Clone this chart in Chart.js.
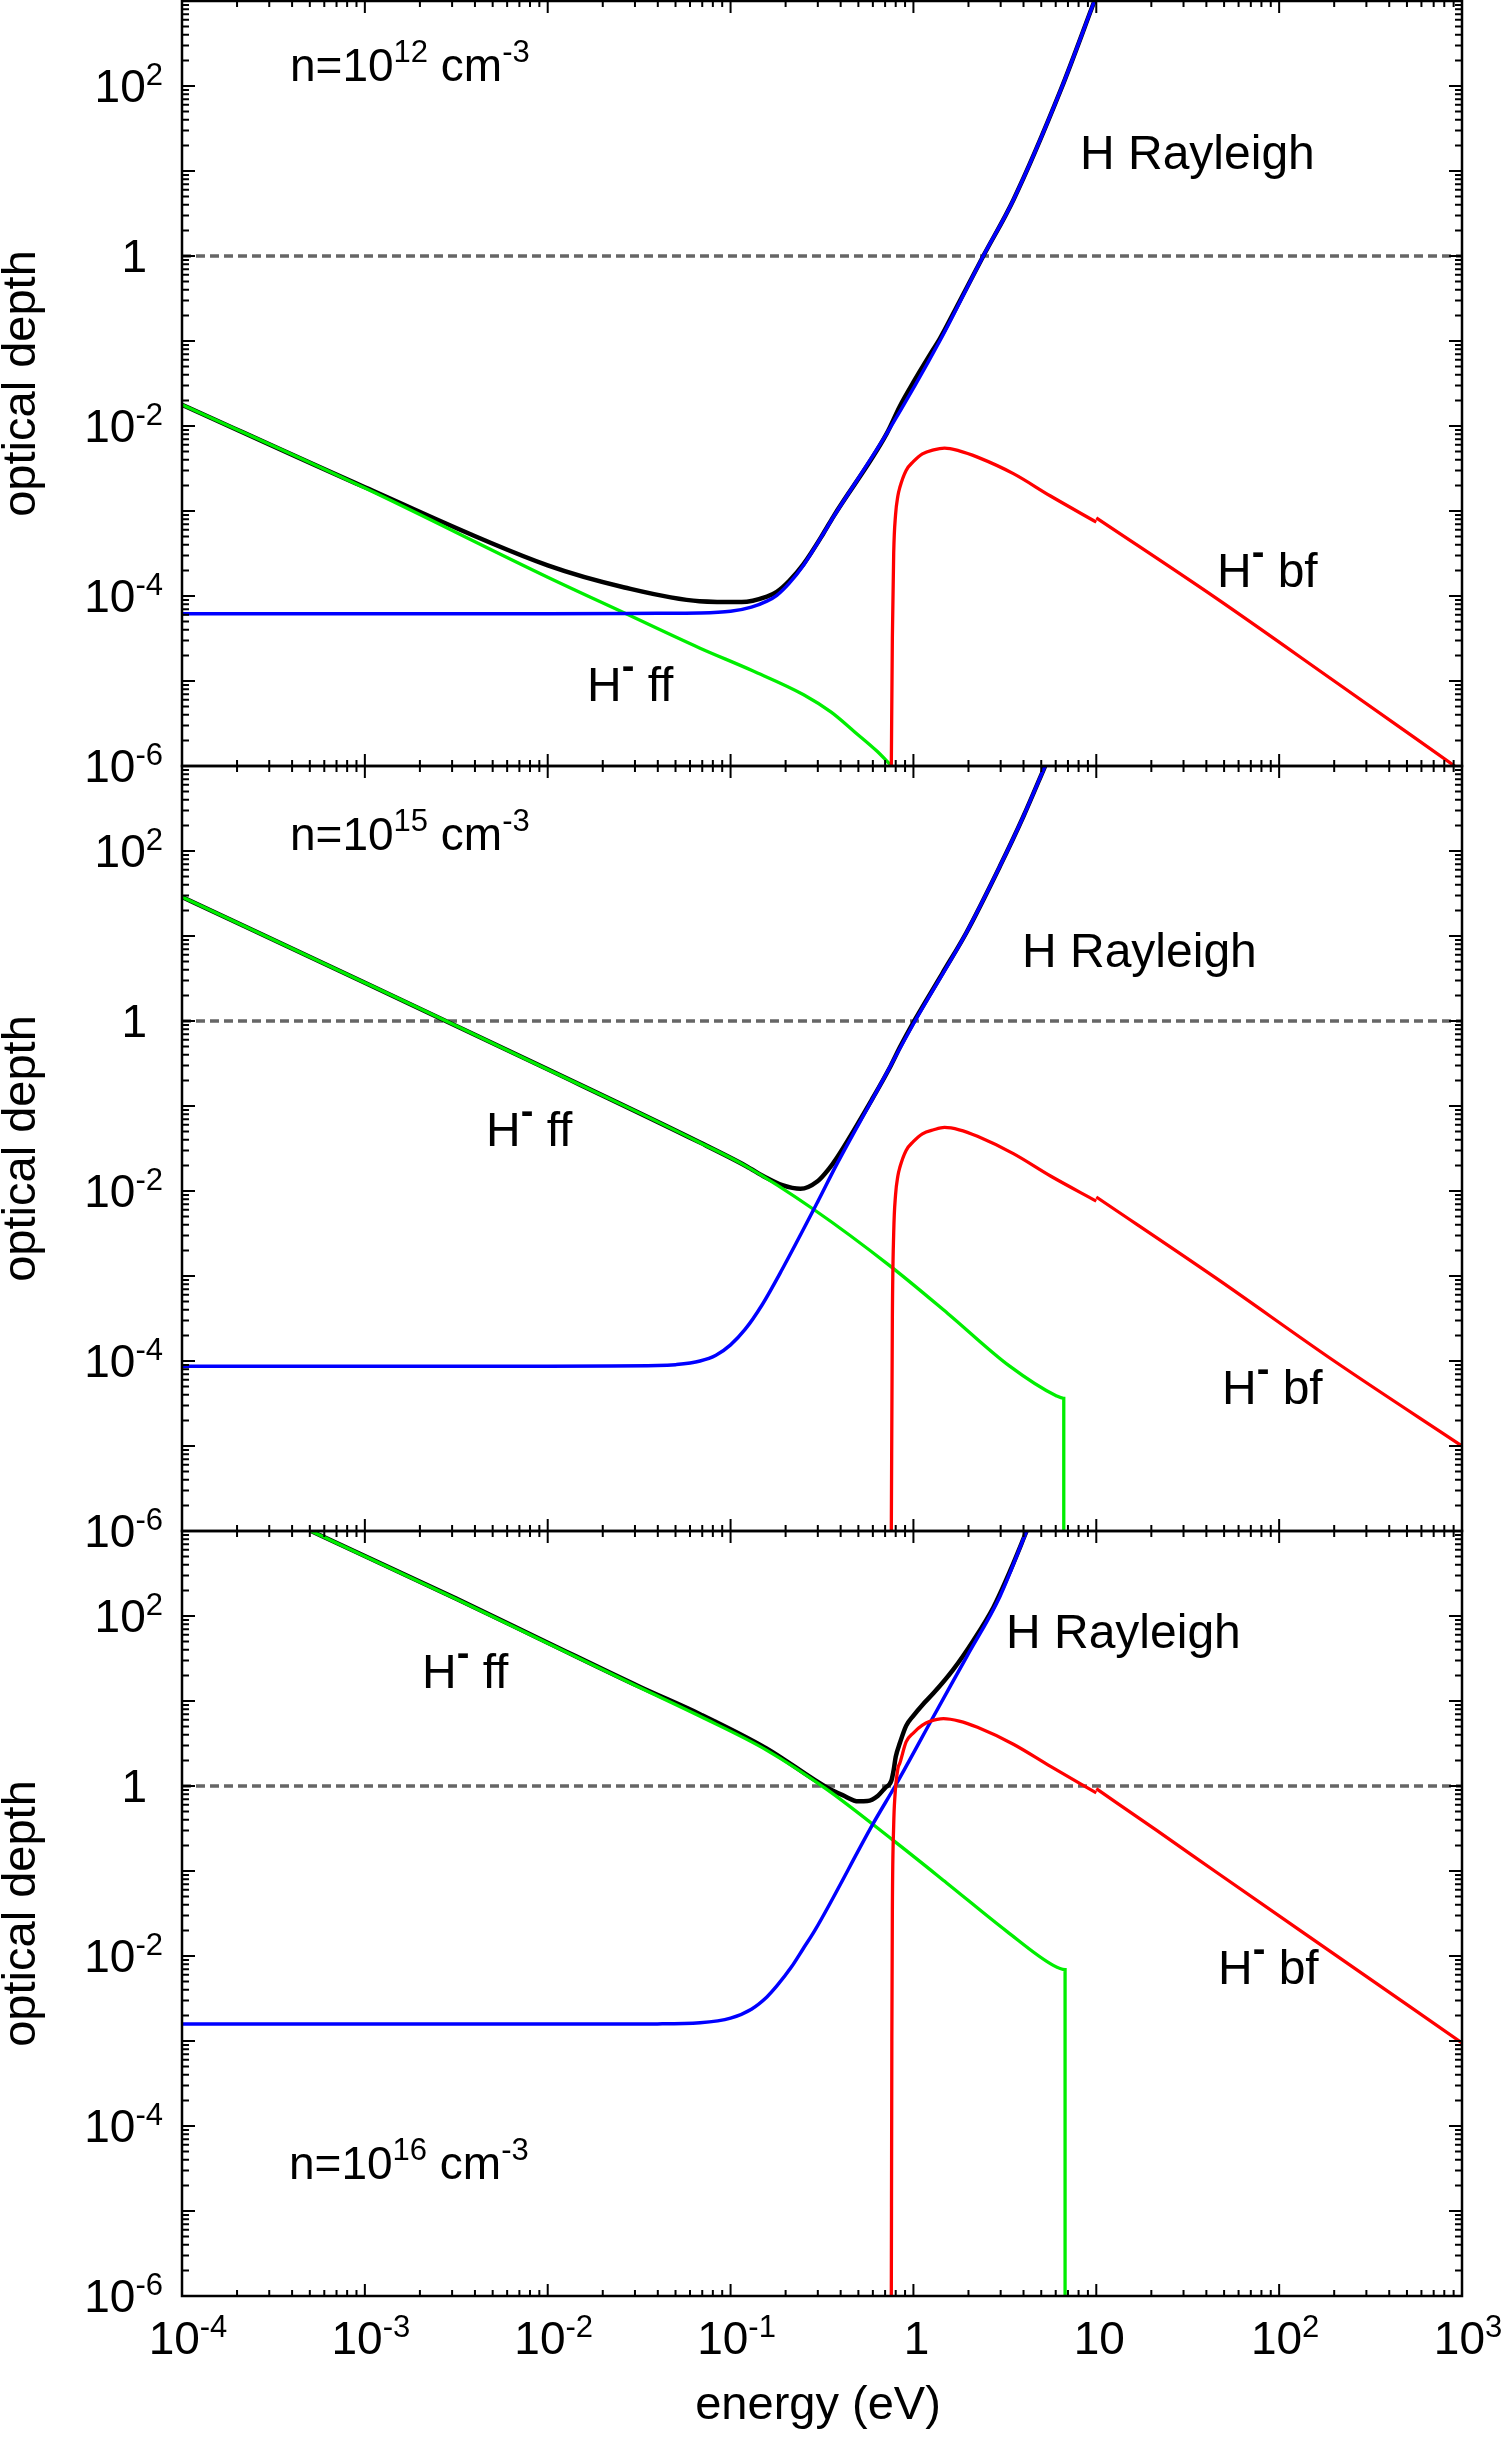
<!DOCTYPE html>
<html>
<head>
<meta charset="utf-8">
<title>Optical depth vs energy</title>
<script src="https://cdn.jsdelivr.net/npm/chart.js@4.4.1/dist/chart.umd.min.js"></script>
<style>
  html, body { margin: 0; padding: 0; background: #fff; }
  #plot { display: block; width: 1509px; height: 2442px; }
</style>
</head>
<body>
<canvas id="plot" width="1509" height="2442"></canvas>
<script>
// energy in eV, optical depth

// n = 1e12 cm^-3
const ff12E  = [1e-4, 1e-3, 1e-2, 0.0263, 0.0676, 0.132, 0.251, 0.355, 0.479, 0.631, 0.759];
const ff12T  = [1.78e-2, 1.86e-3, 1.66e-4, 6.3e-5, 2.45e-5, 1.32e-5, 6.9e-6, 4.3e-6, 2.5e-6, 1.5e-6, 1.0e-6];
const ray12E = [1e-4, 1e-2, 0.0398, 0.0676, 0.1, 0.130, 0.158, 0.179, 0.209, 0.250, 0.321, 0.365, 0.714, 1.40, 2.41, 3.52, 6.41, 9.77];
const ray12T = [6.2e-5, 6.2e-5, 6.25e-5, 6.3e-5, 6.6e-5, 7.4e-5, 8.7e-5, 1.02e-4, 1.41e-4, 2.29e-4, 5.37e-4, 8.5e-4, 8.13e-3, 0.102, 1.0, 4.57, 91.2, 1000];
const bf12E  = [0.757, 0.767, 0.780, 0.798, 0.822, 0.843, 0.912, 0.998, 1.12, 1.29, 1.48, 1.78, 2.24, 3.52, 5.62, 10.0, 10.0, 45, 200, 912];
const bf12T  = [1e-6, 3.2e-5, 3.2e-4, 8.9e-4, 1.5e-3, 1.9e-3, 3.0e-3, 3.8e-3, 4.7e-3, 5.25e-3, 5.5e-3, 5.1e-3, 4.3e-3, 2.75e-3, 1.5e-3, 7.4e-4, 8.3e-4, 9.5e-5, 1.0e-5, 1.0e-6];
const tot12E = [1e-4, 1e-3, 1e-2, 0.0263, 0.0676, 0.115, 0.158, 0.179, 0.209, 0.25, 0.321, 0.365, 0.714, 0.843, 0.998, 1.285, 1.396, 1.778, 2.41, 3.52, 6.41, 9.77];
const tot12T = [1.78e-2, 1.9e-3, 2.29e-4, 1.26e-4, 8.7e-5, 8.5e-5, 9.85e-5, 1.12e-4, 1.5e-4, 2.36e-4, 5.4e-4, 8.6e-4, 8.13e-3, 1.71e-2, 3.25e-2, 8.0e-2, 0.107, 0.286, 1.0, 4.57, 91.2, 1000];

// n = 1e15 cm^-3
const ff15E  = [1e-4, 1e-3, 2.78e-3, 1e-2, 3.16e-2, 6.81e-2, 0.122, 0.284, 0.753, 1.54, 3.36, 6.03, 6.64, 6.64];
const ff15T  = [28.8, 2.82, 1.0, 0.269, 8.3e-2, 3.7e-2, 1.95e-2, 6.1e-3, 1.29e-3, 3.63e-4, 8.7e-5, 3.9e-5, 3.63e-5, 1e-6];
const ray15E = [1e-4, 1e-2, 3.98e-2, 0.0501, 6.81e-2, 8.32e-2, 0.1, 0.120, 0.148, 0.192, 0.299, 0.380, 0.604, 1.02, 1.95, 2.97, 3.98, 5.25];
const ray15T = [8.7e-5, 8.7e-5, 8.83e-5, 9.05e-5, 1.0e-4, 1.17e-4, 1.55e-4, 2.35e-4, 4.5e-4, 1.21e-3, 7.4e-3, 2.04e-2, 0.126, 1.0, 11.0, 66, 251, 1000];
const bf15E  = [0.757, 0.767, 0.780, 0.798, 0.822, 0.843, 0.912, 0.998, 1.12, 1.29, 1.48, 1.78, 2.24, 3.52, 5.62, 10.0, 10.0, 45, 200, 1000];
const bf15T  = [1e-6, 3.2e-4, 3.2e-3, 8.9e-3, 1.5e-2, 1.9e-2, 3.0e-2, 3.8e-2, 4.7e-2, 5.25e-2, 5.6e-2, 5.25e-2, 4.4e-2, 2.75e-2, 1.5e-2, 7.6e-3, 8.5e-3, 9.5e-4, 1.0e-4, 1.0e-5];
const tot15E = [1e-4, 1e-3, 1e-2, 6.81e-2, 0.122, 0.155, 0.192, 0.241, 0.299, 0.345, 0.380, 0.604, 0.753, 0.843, 0.912, 1.02, 1.44, 1.95, 2.97, 3.98, 5.25];
const tot15T = [28.8, 2.82, 0.27, 3.71e-2, 1.96e-2, 1.45e-2, 1.17e-2, 1.06e-2, 1.3e-2, 1.82e-2, 2.43e-2, 0.128, 0.30, 0.49, 0.675, 1.04, 3.64, 11.0, 66, 251, 1000];

// n = 1e16 cm^-3
const ff16E  = [5.07e-4, 3.16e-3, 1e-2, 3.16e-2, 6.81e-2, 0.158, 0.336, 0.776, 1.52, 3.24, 5.82, 6.75, 6.75];
const ff16T  = [1000, 158, 47.9, 14.5, 6.6, 2.63, 0.912, 0.229, 7.24e-2, 1.95e-2, 7.76e-3, 6.92e-3, 1e-6];
const ray16E = [1e-4, 1e-2, 3.98e-2, 6.81e-2, 0.1, 0.130, 0.158, 0.180, 0.214, 0.249, 0.289, 0.603, 0.809, 1.285, 1.954, 2.972, 4.159];
const ray16T = [1.58e-3, 1.58e-3, 1.59e-3, 1.64e-3, 1.86e-3, 2.37e-3, 3.3e-3, 4.5e-3, 7.3e-3, 1.21e-2, 2.0e-2, 0.363, 1.07, 6.53, 33.1, 170, 1000];
const bf16E  = [0.757, 0.762, 0.767, 0.780, 0.792, 0.822, 0.843, 0.912, 0.998, 1.12, 1.23, 1.46, 1.78, 2.24, 3.52, 5.62, 10.0, 10.0, 21.4, 45, 130, 1000];
const bf16T  = [1e-6, 1e-3, 3.5e-2, 0.35, 0.75, 1.6, 1.86, 3.3, 4.2, 5.2, 5.75, 6.2, 5.8, 4.9, 3.1, 1.7, 0.83, 0.93, 0.30, 9.8e-2, 2.0e-2, 9.5e-4];
const tot16E = [5.07e-4, 3.16e-3, 1e-2, 3.16e-2, 6.81e-2, 0.158, 0.336, 0.41, 0.50, 0.56, 0.64, 0.70, 0.757, 0.78, 0.80, 0.843, 0.912, 0.998, 1.12, 1.285, 1.65, 2.12, 2.74, 3.4, 4.159];
const tot16T = [1000, 160, 48.5, 14.8, 7.0, 2.75, 0.96, 0.78, 0.66, 0.665, 0.77, 0.95, 1.15, 1.55, 2.2, 3.2, 5.1, 6.7, 9.0, 12.3, 23.4, 51, 127, 350, 1000];

// axis labels (powers of ten)
const xTickPowers = [-4, -3, -2, -1, 0, 1, 2, 3];
const yTickPowers = [2, 0, -2, -4, -6];
const densities = ['12', '15', '16'];

const FONT = '"Liberation Sans", Arial, Helvetica, sans-serif';
const panels = ['y12', 'y15', 'y16'];

const pts = (E, T) => E.map((e, i) => ({ x: e, y: T[i] }));

// a curve that steps up at one energy is drawn as two pieces so the
// smoothing does not bend the straight parts around the step
function pieces(E, T) {
    for (let i = 1; i < E.length; i++) {
        if (E[i] === E[i - 1] && T[i] > T[i - 1]) {
            return [[E.slice(0, i), T.slice(0, i)], [E.slice(i), T.slice(i)]];
        }
    }
    return [[E, T]];
}

function curve(E, T, axis, color, width, order) {
    return {
        data: pts(E, T),
        yAxisID: axis,
        borderColor: color,
        borderWidth: width,
        pointRadius: 0,
        fill: false,
        cubicInterpolationMode: 'monotone',
        order: order
    };
}

function unity(axis) {
    return {
        data: [{ x: 1e-4, y: 1 }, { x: 1e3, y: 1 }],
        yAxisID: axis,
        borderColor: '#666666',
        borderWidth: 3.5,
        borderDash: [9, 5],
        pointRadius: 0,
        order: 9
    };
}

const datasets = [];
[[tot12E, tot12T, ff12E, ff12T, ray12E, ray12T, bf12E, bf12T, 'y12'],
 [tot15E, tot15T, ff15E, ff15T, ray15E, ray15T, bf15E, bf15T, 'y15'],
 [tot16E, tot16T, ff16E, ff16T, ray16E, ray16T, bf16E, bf16T, 'y16']].forEach(p => {
    datasets.push(unity(p[8]));
    datasets.push(curve(p[0], p[1], p[8], '#000000', 4.5, 8));
    datasets.push(curve(p[2], p[3], p[8], '#00ee00', 3.3, 7));
    datasets.push(curve(p[4], p[5], p[8], '#0000ff', 3.5, 6));
    pieces(p[6], p[7]).forEach(q => datasets.push(curve(q[0], q[1], p[8], '#ff0000', 3.3, 5)));
});

function setFont(ctx, size, bold) {
    ctx.font = (bold ? 'bold ' : '') + size + 'px ' + FONT;
}

// draws text made of normal and superscript pieces
function drawRich(ctx, parts, x, y, align, size, supSize) {
    const widths = parts.map(p => {
        setFont(ctx, p.sup ? (p.size || supSize) : size, p.bold);
        return ctx.measureText(p.t).width;
    });
    const total = widths.reduce((a, b) => a + b, 0);
    let cx = align === 'center' ? x - total / 2 : align === 'right' ? x - total : x;
    ctx.textAlign = 'left';
    ctx.textBaseline = 'alphabetic';
    parts.forEach((p, i) => {
        setFont(ctx, p.sup ? (p.size || supSize) : size, p.bold);
        ctx.fillText(p.t, cx, y - (p.sup ? (p.raise || 17) : 0));
        cx += widths[i];
    });
}

const powerLabel = e => e === 0 ? [{ t: '1' }] : e === 1 ? [{ t: '10' }] : [{ t: '10' }, { t: String(e), sup: true }];
const hMinus = rest => [{ t: 'H' }, { t: '-', sup: true, bold: true, size: 38, raise: 22 }, { t: ' ' + rest }];
const nLabel = ex => [{ t: 'n=10' }, { t: ex, sup: true, raise: 19 }, { t: ' cm' }, { t: '-3', sup: true, raise: 19 }];

// text placed per panel: axis id, left x, offset below panel top, pieces, size
const notes = [
    ['y12', 290, 80, nLabel(densities[0]), 46],
    ['y12', 1080, 168, [{ t: 'H Rayleigh' }], 48],
    ['y12', 1217, 586, hMinus('bf'), 48],
    ['y12', 587, 700, hMinus('ff'), 48],
    ['y15', 290, 84, nLabel(densities[1]), 46],
    ['y15', 1022, 201, [{ t: 'H Rayleigh' }], 48],
    ['y15', 486, 380, hMinus('ff'), 48],
    ['y15', 1222, 638, hMinus('bf'), 48],
    ['y16', 422, 157, hMinus('ff'), 48],
    ['y16', 1006, 117, [{ t: 'H Rayleigh' }], 48],
    ['y16', 1218, 453, hMinus('bf'), 48],
    ['y16', 289, 648, nLabel(densities[2]), 46]
];

const framePlugin = {
    id: 'frames',
    afterDraw(chart) {
        const ctx = chart.ctx;
        const xs = chart.scales.x;
        const left = xs.left, right = xs.right;
        ctx.save();
        ctx.strokeStyle = '#000';
        ctx.fillStyle = '#000';

        panels.forEach(id => {
            const ys = chart.scales[id];
            const top = ys.top, bottom = ys.bottom;

            ctx.lineWidth = 2;
            ctx.beginPath();
            for (let d = -4; d <= 2; d++) {
                for (let k = 1; k <= 9; k++) {
                    const px = xs.getPixelForValue(k * Math.pow(10, d));
                    const len = k === 1 ? 12 : 6;
                    ctx.moveTo(px, top); ctx.lineTo(px, top + len);
                    ctx.moveTo(px, bottom); ctx.lineTo(px, bottom - len);
                }
            }
            for (let d = -6; d <= 2; d++) {
                for (let k = 1; k <= 9; k++) {
                    const py = ys.getPixelForValue(k * Math.pow(10, d));
                    const len = k === 1 ? 13 : 7;
                    ctx.moveTo(left, py); ctx.lineTo(left + len, py);
                    ctx.moveTo(right, py); ctx.lineTo(right - len, py);
                }
            }
            ctx.stroke();

            ctx.lineWidth = 2.5;
            ctx.strokeRect(left, top, right - left, bottom - top);

            yTickPowers.forEach(e => {
                const py = ys.getPixelForValue(Math.pow(10, e));
                const xr = e === 0 ? left - 35 : left - 19;
                drawRich(ctx, powerLabel(e), xr, py + 16, 'right', 46, 31);
            });

            ctx.save();
            ctx.translate(35, (top + bottom) / 2);
            ctx.rotate(-Math.PI / 2);
            setFont(ctx, 47);
            ctx.textAlign = 'center';
            ctx.textBaseline = 'alphabetic';
            ctx.fillText('optical depth', 0, 0);
            ctx.restore();
        });

        const base = chart.scales[panels[2]].bottom;
        xTickPowers.forEach(e => {
            const px = xs.getPixelForValue(Math.pow(10, e));
            const shift = (e === 0 || e === 1) ? 3 : 6;
            drawRich(ctx, powerLabel(e), px + shift, base + 58, 'center', 46, 31);
        });

        setFont(ctx, 47);
        ctx.textAlign = 'center';
        ctx.textBaseline = 'alphabetic';
        ctx.fillText('energy (eV)', (left + right) / 2 - 4, base + 123);

        notes.forEach(n => {
            const ys = chart.scales[n[0]];
            drawRich(ctx, n[3], n[1], ys.top + n[2], 'left', n[4], 31);
        });

        ctx.restore();
    }
};

function yPanel(weight) {
    return {
        type: 'logarithmic',
        min: 1e-6,
        max: 1e3,
        position: 'left',
        stack: 'panels',
        stackWeight: 1,
        weight: weight,
        ticks: { display: false },
        grid: { display: false },
        border: { display: false },
        afterFit: scale => { scale.width = 182; }
    };
}

const chart = new Chart(document.getElementById('plot').getContext('2d'), {
    type: 'line',
    data: { datasets: datasets },
    options: {
        responsive: false,
        animation: false,
        devicePixelRatio: 1,
        events: [],
        layout: { padding: { top: 1, right: 47, left: 0, bottom: 0 } },
        plugins: { legend: { display: false }, tooltip: { enabled: false } },
        scales: {
            x: {
                type: 'logarithmic',
                min: 1e-4,
                max: 1e3,
                position: 'bottom',
                ticks: { display: false },
                grid: { display: false },
                border: { display: false },
                afterFit: scale => { scale.height = 146; }
            },
            y12: yPanel(3),
            y15: yPanel(2),
            y16: yPanel(1)
        }
    },
    plugins: [framePlugin]
});
</script>
</body>
</html>
